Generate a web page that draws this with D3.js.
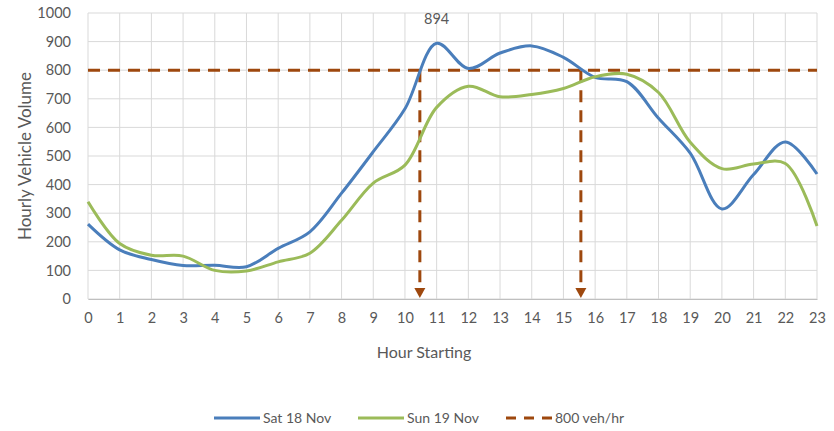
<!DOCTYPE html>
<html>
<head>
<meta charset="utf-8">
<title>Hourly Vehicle Volume</title>
<script src="https://cdn.jsdelivr.net/npm/d3@7"></script>
<style>
  body { margin: 0; background: #fff; }
  text { font-family: Lato, "Open Sans", sans-serif; fill: #595959; }
  .grid line { stroke: #d9d9d9; stroke-width: 1; }
</style>
</head>
<body>
<script>
// data
var hours = d3.range(0, 24);
var sat = [262, 172, 138, 117, 118, 113, 177, 235, 370, 515, 665, 894, 806, 860, 885, 845, 775, 760, 632, 510, 315, 435, 549, 437];
var sun = [340, 194, 153, 150, 100, 98, 130, 160, 275, 405, 468, 670, 744, 707, 715, 736, 777, 786, 722, 548, 456, 472, 474, 255];
var threshold = 800;
var crossings = [10.47, 15.55];
var yTicks = [0, 100, 200, 300, 400, 500, 600, 700, 800, 900, 1000];
var seriesNames = ["Sat 18 Nov", "Sun 19 Nov", "800 veh/hr"];

var W = 834, H = 431;
var margin = { top: 13, right: 17, bottom: 132, left: 88 };
var width = W - margin.left - margin.right,
    height = H - margin.top - margin.bottom;

var blue = "#4a7ebb", green = "#9bbb59", brown = "#9e480e";

var svg = d3.select("body").append("svg")
    .attr("width", W).attr("height", H);
var g = svg.append("g")
    .attr("transform", "translate(" + margin.left + "," + margin.top + ")");

var x = d3.scaleLinear().domain([0, 23]).range([0, width]);
var y = d3.scaleLinear().domain([0, 1000]).range([height, 0]);

// grid
g.append("g").attr("class", "grid")
  .selectAll("line").data(yTicks).enter().append("line")
    .attr("x1", 0).attr("x2", width)
    .attr("y1", function(d) { return y(d); }).attr("y2", function(d) { return y(d); });
g.append("g").attr("class", "grid")
  .selectAll("line").data(hours).enter().append("line")
    .attr("y1", 0).attr("y2", height)
    .attr("x1", function(d) { return x(d); }).attr("x2", function(d) { return x(d); });

// axes
var yAxis = g.append("g")
    .call(d3.axisLeft(y).tickValues(yTicks).tickSize(0).tickPadding(17).tickFormat(d3.format("d")));
yAxis.select(".domain").remove();
var xAxis = g.append("g")
    .attr("transform", "translate(0," + height + ")")
    .call(d3.axisBottom(x).tickValues(hours).tickSize(0).tickPadding(14).tickFormat(d3.format("d")));
xAxis.select(".domain").attr("stroke", "#bfbfbf");
g.selectAll(".tick text").style("font-size", "14.5px").attr("fill", "#595959");

// axis titles
svg.append("text")
    .attr("transform", "translate(31," + (margin.top + height / 2) + ") rotate(-90)")
    .attr("text-anchor", "middle")
    .style("font-size", "17px")
    .text("Hourly Vehicle Volume");
svg.append("text")
    .attr("x", 424).attr("y", 358)
    .attr("text-anchor", "middle")
    .style("font-size", "16px")
    .text("Hour Starting");

// threshold lines
var dash = "12,8";
g.append("line")
    .attr("x1", x(0)).attr("x2", x(23))
    .attr("y1", y(threshold)).attr("y2", y(threshold))
    .attr("stroke", brown).attr("stroke-width", 3).attr("stroke-dasharray", dash);
g.selectAll(".vdrop").data(crossings).enter().append("line")
    .attr("class", "vdrop")
    .attr("x1", function(d) { return x(d); }).attr("x2", function(d) { return x(d); })
    .attr("y1", y(threshold)).attr("y2", y(0) - 10)
    .attr("stroke", brown).attr("stroke-width", 3).attr("stroke-dasharray", dash);
g.selectAll(".arrow").data(crossings).enter().append("path")
    .attr("class", "arrow")
    .attr("d", function(d) {
      var cx = x(d), by = y(0);
      return "M" + (cx - 5.5) + "," + (by - 11) + "L" + (cx + 5.5) + "," + (by - 11) + "L" + cx + "," + (by - 1) + "Z";
    })
    .attr("fill", brown);

// series
var line = d3.line()
    .x(function(d, i) { return x(hours[i]); })
    .y(function(d) { return y(d); })
    .curve(d3.curveCatmullRom.alpha(0.5));

g.append("path").datum(sat)
    .attr("d", line).attr("fill", "none")
    .attr("stroke", blue).attr("stroke-width", 3).attr("stroke-linejoin", "round");
g.append("path").datum(sun)
    .attr("d", line).attr("fill", "none")
    .attr("stroke", green).attr("stroke-width", 3).attr("stroke-linejoin", "round");

// peak label
var peak = d3.max(sat);
g.append("text")
    .attr("x", x(sat.indexOf(peak))).attr("y", y(peak) - 19)
    .attr("text-anchor", "middle")
    .style("font-size", "14.5px")
    .attr("fill", "#404040")
    .text(peak);

// legend
var legend = svg.append("g").attr("transform", "translate(0,418)");
var items = [
  { name: seriesNames[0], color: blue, x: 214, dash: null },
  { name: seriesNames[1], color: green, x: 358, dash: null },
  { name: seriesNames[2], color: brown, x: 506, dash: "10,8" }
];
items.forEach(function(it) {
  legend.append("line")
    .attr("x1", it.x).attr("x2", it.x + 46)
    .attr("stroke", it.color).attr("stroke-width", 3)
    .attr("stroke-dasharray", it.dash);
  legend.append("text")
    .attr("x", it.x + 49).attr("y", 5)
    .style("font-size", "14px")
    .text(it.name);
});
</script>
</body>
</html>
